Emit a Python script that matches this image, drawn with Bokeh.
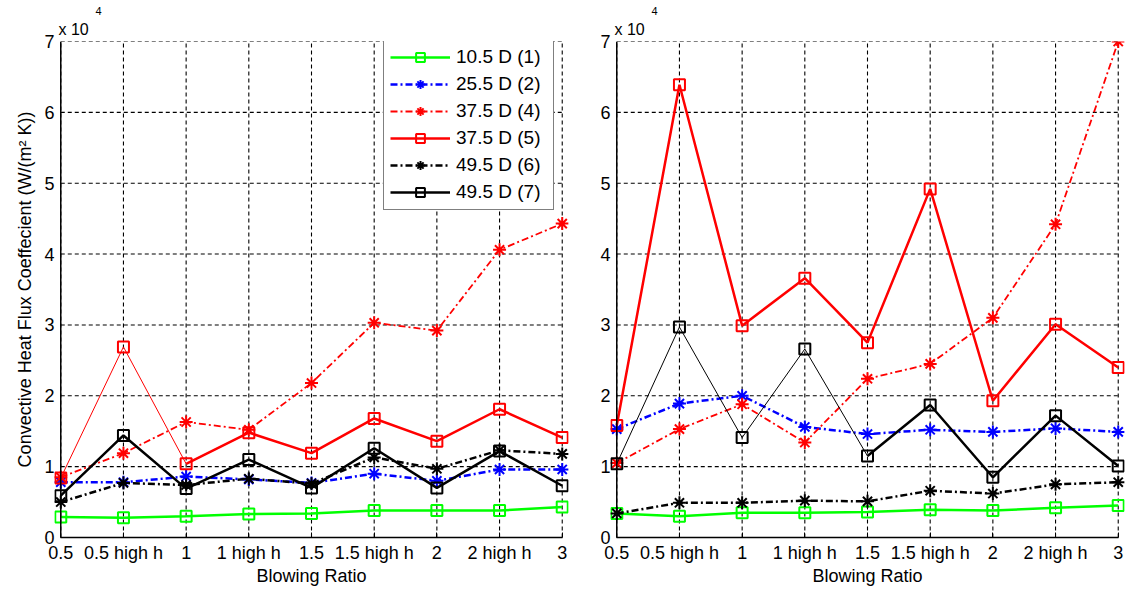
from bokeh.plotting import figure
from bokeh.models import Range1d, FixedTicker, Legend, LegendItem, Title, Span
from bokeh.layouts import row
from bokeh.embed import file_html
from bokeh.resources import INLINE

FONT = "Liberation Sans"

# ---------------- data ----------------
categories = ["0.5", "0.5 high h", "1", "1 high h", "1.5", "1.5 high h", "2", "2 high h", "3"]
y_ticks = [0, 1, 2, 3, 4, 5, 6, 7]          # in units of 1e4
series_names = ["10.5 D (1)", "25.5 D (2)", "37.5 D (4)", "37.5 D (5)", "49.5 D (6)", "49.5 D (7)"]

# left panel  (W/(m^2 K))
left_d1 = [2900, 2800, 3000, 3300, 3400, 3800, 3800, 3800, 4300]
left_d2 = [7800, 7800, 8600, 8200, 7700, 9000, 8000, 9600, 9600]
left_d4 = [8500, 11900, 16300, 15200, 21800, 30300, 29200, 40600, 44300]
left_d5 = [8400, 26900, 10400, 14800, 11900, 16800, 13600, 18100, 14100]
left_d6 = [5000, 7700, 7400, 8300, 7600, 11300, 9700, 12300, 11800]
left_d7 = [5900, 14400, 6900, 11000, 7000, 12600, 7000, 12200, 7300]

# right panel (W/(m^2 K))
right_d1 = [3400, 3000, 3500, 3500, 3600, 3900, 3800, 4200, 4500]
right_d2 = [15300, 18900, 20000, 15600, 14600, 15200, 14900, 15400, 14900]
right_d4 = [10500, 15300, 18800, 13400, 22400, 24500, 31000, 44200, 70000]
right_d5 = [15800, 63900, 29900, 36600, 27500, 49200, 19300, 30100, 24000]
right_d6 = [3400, 4900, 4900, 5200, 5100, 6600, 6200, 7500, 7800]
right_d7 = [10400, 29700, 14100, 26600, 11500, 18700, 8500, 17200, 10100]

SCALE = 1e4

left_data = dict(zip(series_names, [left_d1, left_d2, left_d4, left_d5, left_d6, left_d7]))
right_data = dict(zip(series_names, [right_d1, right_d2, right_d4, right_d5, right_d6, right_d7]))

# ---------------- styles ----------------
DASHDOT = "7 3 2 3"
STYLE = {
    "10.5 D (1)": dict(color="#00ff00", dash="solid", marker="square", width=2.5),
    "25.5 D (2)": dict(color="#0000ff", dash=DASHDOT, marker="asterisk", width=2.5),
    "37.5 D (4)": dict(color="#ff0000", dash=DASHDOT, marker="asterisk", width=1.8),
    "37.5 D (5)": dict(color="#ff0000", dash="solid", marker="square", width=2.5),
    "49.5 D (6)": dict(color="#000000", dash=DASHDOT, marker="asterisk", width=2.5),
    "49.5 D (7)": dict(color="#000000", dash="solid", marker="square", width=2.5),
}
MARKER_SIZE = {"square": 11, "asterisk": 13}
# number of leading segments drawn with a thin line
left_thin = {"37.5 D (5)": 2}
right_thin = {"49.5 D (7)": 4}

PAD = 0.1
HEIGHT = 594


def make_panel(data, thin, width, mbl, mbr, tick_standoff, ylabel=None, legend=False):
    n = len(categories)
    xs = list(range(n))
    p = figure(width=width, height=HEIGHT, title=None,
               x_range=Range1d(xs[0] - PAD, xs[-1] + PAD),
               y_range=Range1d(y_ticks[0], y_ticks[-1]),
               output_backend="svg", toolbar_location=None,
               min_border_left=mbl, min_border_right=mbr,
               min_border_top=41, min_border_bottom=57)
    p.grid.visible = False
    p.outline_line_color = None
    p.background_fill_color = "white"
    p.border_fill_color = "white"

    # dashed grid limited to the axes box
    ny = len(y_ticks)
    p.segment(x0=xs, y0=[y_ticks[0]] * n, x1=xs, y1=[y_ticks[-1]] * n,
              line_color="black", line_dash="4 3", line_width=1.1)
    p.segment(x0=[xs[0]] * ny, y0=y_ticks, x1=[xs[-1]] * ny, y1=y_ticks,
              line_color="black", line_dash="4 3", line_width=1.1)

    items = []
    for name in series_names:
        st = STYLE[name]
        ys = [v / SCALE for v in data[name]]
        k = thin.get(name, 0)
        if k:
            p.line(xs[:k + 1], ys[:k + 1], line_color=st["color"], line_width=1,
                   line_dash=st["dash"])
        lr = p.line(xs[k:], ys[k:], line_color=st["color"], line_width=st["width"],
                    line_dash=st["dash"])
        mr = p.scatter(xs, ys, marker=st["marker"], size=MARKER_SIZE[st["marker"]],
                       line_color=st["color"], fill_color=None, line_width=2)
        items.append(LegendItem(label=name, renderers=[lr, mr]))

    # y axis line at the first category
    p.add_layout(Span(location=xs[0], dimension="height", line_color="black", line_width=1.5))

    xa = p.xaxis[0]
    xa.ticker = FixedTicker(ticks=xs)
    xa.major_label_overrides = {i: c for i, c in enumerate(categories)}
    xa.bounds = (xs[0], xs[-1])
    xa.axis_label = "Blowing Ratio"
    xa.major_label_standoff = 5
    xa.axis_label_standoff = 0
    xa.axis_line_color = "black"
    xa.axis_line_width = 1.5
    xa.major_tick_in = 5
    xa.major_tick_out = 0
    xa.major_tick_line_color = "black"

    ya = p.yaxis[0]
    ya.ticker = FixedTicker(ticks=y_ticks)
    ya.axis_line_color = None
    ya.major_tick_in = 0
    ya.major_tick_out = 0
    ya.major_label_standoff = tick_standoff
    if ylabel:
        ya.axis_label = ylabel
        ya.axis_label_standoff = 6

    for ax in (xa, ya):
        ax.minor_tick_line_color = None
        ax.major_label_text_font = FONT
        ax.major_label_text_font_size = "18px"
        ax.major_label_text_color = "black"
        ax.axis_label_text_font = FONT
        ax.axis_label_text_font_size = "18px"
        ax.axis_label_text_font_style = "normal"
        ax.axis_label_text_color = "black"

    # exponent note above the y axis (first added sits closest to the frame)
    p.add_layout(Title(text="x 10", align="left", offset=4, standoff=8,
                       text_font=FONT, text_font_size="16px", text_font_style="normal",
                       text_color="black"), "above")
    p.add_layout(Title(text="4", align="left", offset=41, standoff=0,
                       text_font=FONT, text_font_size="11px", text_font_style="normal",
                       text_color="black"), "above")

    if legend:
        lg = Legend(items=items, location=(329, 327))
        lg.label_text_font = FONT
        lg.label_text_font_size = "19px"
        lg.label_text_color = "black"
        lg.border_line_color = "black"
        lg.border_line_width = 1
        lg.background_fill_color = "white"
        lg.background_fill_alpha = 1
        lg.glyph_width = 60
        lg.glyph_height = 22
        lg.label_height = 22
        lg.label_width = 91
        lg.spacing = 5
        lg.padding = 6
        lg.label_standoff = 6
        lg.margin = 0
        p.add_layout(lg)
    return p


left = make_panel(left_data, left_thin, 580, 54, 12, 0,
                  ylabel="Convective Heat Flux Coeffecient (W/(m\u00b2 K))", legend=True)
right = make_panel(right_data, right_thin, 545, 30, 1, 0)

layout = row(left, right)
open("out.html", "w").write(file_html(layout, INLINE))
